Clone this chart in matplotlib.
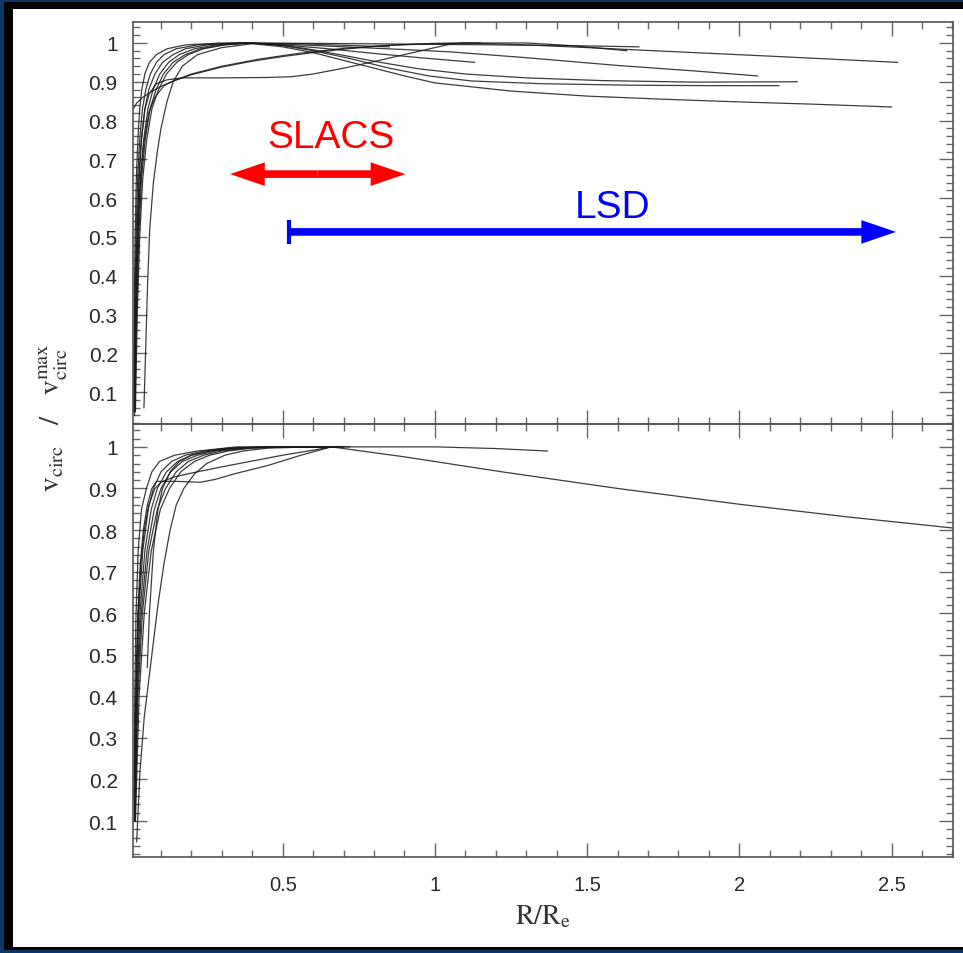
import matplotlib
matplotlib.use('Agg')
import matplotlib.pyplot as plt
from matplotlib.patches import Rectangle
from matplotlib.ticker import MultipleLocator, FuncFormatter

plt.rcParams['mathtext.fontset'] = 'stix'

# ---- top panel curves (R/Re, v/vmax) ----
top_a_x = [0.010, 0.012, 0.015, 0.019, 0.024, 0.030, 0.037, 0.047, 0.062, 0.085, 0.12, 0.18, 0.30, 0.60, 0.90, 1.20, 1.45, 1.67]
top_a_y = [0.05, 0.30, 0.50, 0.65, 0.75, 0.83, 0.88, 0.92, 0.95, 0.97, 0.985, 0.995, 1.000, 0.999, 0.997, 0.995, 0.993, 0.990]

top_b_x = [0.012, 0.016, 0.021, 0.027, 0.035, 0.047, 0.062, 0.085, 0.12, 0.17, 0.30, 0.45, 0.53, 0.60, 0.70, 0.80, 0.90, 1.00, 1.05, 1.10, 1.30, 1.45, 1.63]
top_b_y = [0.05, 0.30, 0.50, 0.65, 0.75, 0.83, 0.87, 0.895, 0.905, 0.91, 0.91, 0.911, 0.913, 0.92, 0.935, 0.952, 0.97, 0.988, 0.997, 1.000, 1.000, 0.993, 0.980]

top_c_x = [0.009, 0.02, 0.04, 0.07, 0.10, 0.14, 0.20, 0.30, 0.40, 0.50, 0.60, 0.70, 0.80, 0.90, 1.00, 1.10, 1.30, 1.50, 1.80, 2.10, 2.52]
top_c_y = [0.83, 0.845, 0.86, 0.875, 0.888, 0.902, 0.918, 0.938, 0.953, 0.965, 0.975, 0.984, 0.991, 0.996, 0.999, 1.000, 0.995, 0.988, 0.977, 0.966, 0.950]

top_d_x = [0.012, 0.016, 0.021, 0.028, 0.036, 0.047, 0.060, 0.080, 0.105, 0.14, 0.18, 0.25, 0.36, 0.50, 0.65, 0.80, 0.95, 1.13]
top_d_y = [0.05, 0.30, 0.50, 0.65, 0.75, 0.83, 0.88, 0.92, 0.95, 0.97, 0.985, 0.995, 1.000, 0.995, 0.985, 0.973, 0.962, 0.950]

top_e_x = [0.013, 0.018, 0.024, 0.032, 0.043, 0.057, 0.074, 0.096, 0.125, 0.16, 0.21, 0.28, 0.38, 0.50, 0.70, 0.90, 1.05, 1.30, 1.60, 1.85, 2.06]
top_e_y = [0.05, 0.30, 0.50, 0.65, 0.75, 0.83, 0.88, 0.92, 0.95, 0.97, 0.985, 0.995, 1.000, 0.997, 0.99, 0.983, 0.977, 0.962, 0.942, 0.928, 0.915]

top_f_x = [0.014, 0.020, 0.027, 0.036, 0.048, 0.064, 0.084, 0.108, 0.14, 0.18, 0.23, 0.30, 0.39, 0.48, 0.58, 0.70, 0.82, 0.95, 1.10, 1.30, 1.55, 1.85, 2.19]
top_f_y = [0.05, 0.30, 0.50, 0.65, 0.75, 0.83, 0.88, 0.92, 0.95, 0.97, 0.985, 0.995, 1.000, 0.996, 0.985, 0.968, 0.95, 0.933, 0.92, 0.91, 0.903, 0.899, 0.900]

top_g_x = [0.016, 0.022, 0.030, 0.040, 0.053, 0.070, 0.092, 0.118, 0.152, 0.19, 0.24, 0.31, 0.40, 0.50, 0.60, 0.72, 0.85, 0.98, 1.12, 1.35, 1.65, 1.90, 2.13]
top_g_y = [0.05, 0.30, 0.50, 0.65, 0.75, 0.83, 0.88, 0.92, 0.95, 0.97, 0.985, 0.995, 1.000, 0.993, 0.98, 0.96, 0.935, 0.915, 0.902, 0.895, 0.891, 0.890, 0.890]

top_h_x = [0.044, 0.050, 0.056, 0.063, 0.075, 0.088, 0.10, 0.12, 0.14, 0.17, 0.22, 0.30, 0.40, 0.50, 0.60, 0.70, 0.80, 0.90, 1.00, 1.25, 1.50, 1.75, 2.00, 2.25, 2.50]
top_h_y = [0.06, 0.22, 0.38, 0.52, 0.64, 0.72, 0.78, 0.85, 0.90, 0.94, 0.97, 0.988, 0.998, 0.99, 0.975, 0.955, 0.935, 0.915, 0.897, 0.876, 0.863, 0.855, 0.848, 0.842, 0.835]

top_i_x = [0.011, 0.014, 0.018, 0.023, 0.030, 0.039, 0.050, 0.065, 0.085, 0.11, 0.15, 0.22, 0.35, 0.55, 0.70, 0.85]
top_i_y = [0.05, 0.30, 0.50, 0.65, 0.75, 0.83, 0.88, 0.92, 0.95, 0.97, 0.985, 0.995, 1.000, 0.998, 0.994, 0.990]

top_j_x = [0.013, 0.018, 0.024, 0.033, 0.045, 0.060, 0.080, 0.11, 0.15, 0.20, 0.30, 0.42, 0.55, 0.70, 0.85, 1.00, 1.15]
top_j_y = [0.04, 0.30, 0.50, 0.65, 0.75, 0.82, 0.86, 0.89, 0.905, 0.92, 0.94, 0.958, 0.973, 0.986, 0.994, 0.998, 1.000]

# ---- bottom panel curves ----
bot_1_x = [0.013, 0.018, 0.024, 0.032, 0.042, 0.055, 0.070, 0.085, 0.15, 0.23, 0.28, 0.34, 0.45, 0.56, 0.66, 0.90, 1.22, 1.60, 2.00, 2.35, 2.70]
bot_1_y = [0.20, 0.45, 0.60, 0.72, 0.80, 0.86, 0.90, 0.917, 0.917, 0.915, 0.922, 0.935, 0.955, 0.98, 1.0, 0.976, 0.94, 0.90, 0.862, 0.832, 0.805]

bot_2_x = [0.014, 0.019, 0.025, 0.034, 0.045, 0.060, 0.080, 0.10, 0.14, 0.20, 0.30, 0.40, 0.50, 0.60, 0.66, 0.80, 1.00, 1.20, 1.37]
bot_2_y = [0.20, 0.42, 0.60, 0.72, 0.80, 0.86, 0.90, 0.915, 0.927, 0.937, 0.952, 0.966, 0.98, 0.992, 1.0, 1.0, 1.0, 0.996, 0.99]

bot_3_x = [0.011, 0.014, 0.018, 0.025, 0.036, 0.052, 0.070, 0.095, 0.145, 0.22, 0.35, 0.70]
bot_3_y = [0.15, 0.40, 0.60, 0.75, 0.85, 0.90, 0.94, 0.965, 0.98, 0.99, 1.0, 1.0]

bot_4_x = [0.012, 0.018, 0.027, 0.040, 0.058, 0.075, 0.10, 0.135, 0.18, 0.24, 0.32, 0.43, 0.62]
bot_4_y = [0.10, 0.40, 0.60, 0.75, 0.85, 0.90, 0.94, 0.965, 0.98, 0.99, 0.997, 1.0, 1.0]

bot_5_x = [0.013, 0.020, 0.031, 0.047, 0.068, 0.088, 0.118, 0.155, 0.20, 0.26, 0.34, 0.46, 0.66]
bot_5_y = [0.10, 0.40, 0.60, 0.75, 0.85, 0.90, 0.94, 0.965, 0.98, 0.99, 0.997, 1.0, 1.0]

bot_6_x = [0.014, 0.022, 0.035, 0.054, 0.078, 0.10, 0.132, 0.17, 0.22, 0.28, 0.36, 0.48, 0.70]
bot_6_y = [0.10, 0.40, 0.60, 0.75, 0.85, 0.90, 0.94, 0.965, 0.98, 0.99, 0.997, 1.0, 1.0]

bot_7_x = [0.015, 0.024, 0.039, 0.060, 0.088, 0.115, 0.15, 0.19, 0.24, 0.30, 0.38, 0.50, 0.72]
bot_7_y = [0.10, 0.40, 0.60, 0.75, 0.85, 0.90, 0.94, 0.965, 0.98, 0.99, 0.997, 1.0, 1.0]

bot_8_x = [0.055, 0.062, 0.075, 0.090, 0.105, 0.13, 0.16, 0.20, 0.26, 0.34, 0.45, 0.68]
bot_8_y = [0.47, 0.60, 0.75, 0.85, 0.90, 0.94, 0.965, 0.98, 0.99, 0.997, 1.0, 1.0]

bot_9_x = [0.020, 0.031, 0.045, 0.070, 0.090, 0.11, 0.13, 0.15, 0.175, 0.21, 0.25, 0.31, 0.37, 0.45, 0.60]
bot_9_y = [0.05, 0.22, 0.35, 0.50, 0.62, 0.72, 0.80, 0.86, 0.90, 0.935, 0.96, 0.98, 0.99, 0.997, 1.0]

bot_10_x = [0.016, 0.028, 0.045, 0.068, 0.098, 0.128, 0.165, 0.21, 0.26, 0.32, 0.40, 0.52, 0.68]
bot_10_y = [0.10, 0.40, 0.60, 0.75, 0.85, 0.90, 0.94, 0.965, 0.98, 0.99, 0.997, 1.0, 1.0]

top_curves = [(top_a_x, top_a_y), (top_b_x, top_b_y), (top_c_x, top_c_y), (top_d_x, top_d_y),
              (top_e_x, top_e_y), (top_f_x, top_f_y), (top_g_x, top_g_y), (top_h_x, top_h_y),
              (top_i_x, top_i_y), (top_j_x, top_j_y)]
bot_curves = [(bot_1_x, bot_1_y), (bot_2_x, bot_2_y), (bot_3_x, bot_3_y), (bot_4_x, bot_4_y),
              (bot_5_x, bot_5_y), (bot_6_x, bot_6_y), (bot_7_x, bot_7_y), (bot_8_x, bot_8_y),
              (bot_9_x, bot_9_y), (bot_10_x, bot_10_y)]

y_ticks = [0.1, 0.2, 0.3, 0.4, 0.5, 0.6, 0.7, 0.8, 0.9, 1.0]
x_ticks = [0.5, 1.0, 1.5, 2.0, 2.5]

fig = plt.figure(figsize=(9.63, 9.54), dpi=100)
fig.patch.set_facecolor('#0a3766')
fig.add_artist(Rectangle((4 / 963, 3 / 954), 1.0, 948 / 954, transform=fig.transFigure,
                         facecolor='black', edgecolor='none', zorder=0))
fig.add_artist(Rectangle((13 / 963, 6 / 954), 1.0, 938 / 954, transform=fig.transFigure,
                         facecolor='white', edgecolor='none', zorder=0))

ax1 = fig.add_axes([0.1381, 0.5545, 0.8515, 0.4214])
ax2 = fig.add_axes([0.1381, 0.1006, 0.8515, 0.4539])

fmt = FuncFormatter(lambda v, p: f'{v:g}')
for ax, curves in [(ax1, top_curves), (ax2, bot_curves)]:
    for cx, cy in curves:
        ax.plot(cx, cy, color='#1a1a1a', lw=0.9, alpha=0.85)
    ax.set_xlim(0.008, 2.702)
    ax.set_yticks(y_ticks)
    ax.set_xticks(x_ticks)
    ax.xaxis.set_minor_locator(MultipleLocator(0.1))
    ax.yaxis.set_minor_locator(MultipleLocator(0.02))
    ax.xaxis.set_major_formatter(fmt)
    ax.yaxis.set_major_formatter(fmt)
    ax.tick_params(which='both', direction='in', top=True, right=True, color='#666666', width=1)
    ax.tick_params(which='major', length=10)
    ax.tick_params(which='minor', length=5)
    ax.tick_params(axis='y', labelsize=15, labelcolor='#2a2a2a', pad=11)
    for lbl in ax.get_yticklabels():
        lbl.set_fontfamily(['Liberation Sans', 'DejaVu Sans'])
    for s in ax.spines.values():
        s.set_color('#555555')
        s.set_linewidth(1.2)
    ax.patch.set_alpha(0)

ax1.set_ylim(0.018, 1.054)
ax2.set_ylim(0.0135, 1.055)
ax1.tick_params(axis='x', labelbottom=False)
ax2.tick_params(axis='x', labelsize=14.5, labelcolor='#2a2a2a', pad=13)
for lbl in ax2.get_xticklabels():
    lbl.set_fontfamily(['Liberation Sans Narrow', 'Liberation Sans'])

# SLACS double arrow
ax1.text(0.659, 0.758, 'SLACS', color='#ff0000', fontsize=28, ha='center', va='center',
         family=['Liberation Sans', 'DejaVu Sans'])
arr_red = dict(arrowstyle='simple,head_length=25,head_width=17,tail_width=5.5',
               color='#ff0000', lw=0, mutation_scale=1, shrinkA=0, shrinkB=0)
ax1.annotate('', xy=(0.327, 0.662), xytext=(0.615, 0.662), arrowprops=arr_red)
ax1.annotate('', xy=(0.903, 0.662), xytext=(0.615, 0.662), arrowprops=arr_red)

# LSD arrow
ax1.text(1.584, 0.577, 'LSD', color='#0000ff', fontsize=28, ha='center', va='center',
         family=['Liberation Sans', 'DejaVu Sans'])
arr_blue = dict(arrowstyle='simple,head_length=25,head_width=17,tail_width=5.5',
                color='#0000ff', lw=0, mutation_scale=1, shrinkA=0, shrinkB=0)
ax1.annotate('', xy=(2.515, 0.513), xytext=(0.521, 0.513), arrowprops=arr_blue)
ax1.plot([0.521], [0.513], marker='|', markersize=17, mew=3, color='#0000ff')

fig.text(0.055, 0.562, r'$\mathrm{v_{circ}\ \ \ /\ \ \ v_{circ}^{max}}$', rotation=90,
         ha='center', va='center', fontsize=21, color='#333333')
fig.text(0.564, 0.040, r'$\mathrm{R/R_{e}}$', ha='center', va='center', fontsize=20, color='#333333')

fig.savefig('out.png', dpi=100, facecolor=fig.get_facecolor())
